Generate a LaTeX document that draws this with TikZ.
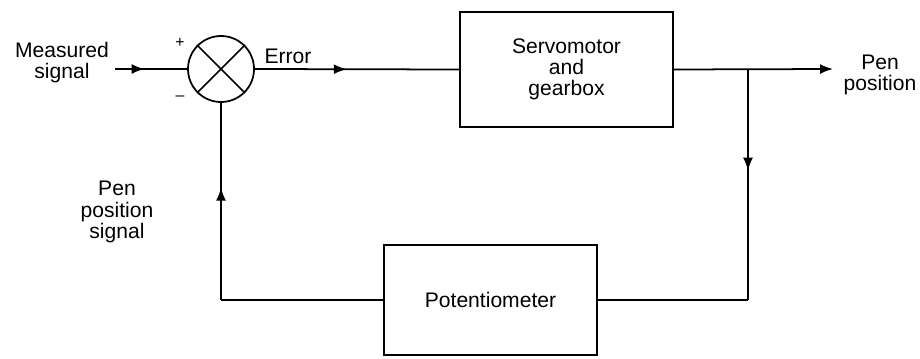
\documentclass[tikz,border=0pt]{standalone}
\usepackage{fontspec}
\setmainfont{Liberation Sans}
\usepackage{tikz}
\usetikzlibrary{arrows.meta,decorations.markings}
\tikzstyle{bloc}=[rectangle, draw=black, minimum width=4.26cm, align=center]
\tikzstyle{texte}=[align=center, font=\fontsize{12}{12}\selectfont]
\tikzstyle{signe}=[font=\fontsize{9}{9}\selectfont]
\tikzstyle{fleche}=[postaction={decorate}, decoration={markings, mark=at position #1 with {\arrow{Latex[length=2.6mm,width=2mm]}}}]

\begin{document}
\begin{tikzpicture}[line width=1pt]
			\useasboundingbox (0,0) rectangle (18.4,-7.16);
			\node[circle, draw=black, minimum size=1.32cm, inner sep=0pt] (s1) at (4.42,-1.38) {};
			\node[bloc, minimum height=2.3cm, texte] (b1) at (11.33,-1.39) {Servomotor\\and\\gearbox};
			\node[bloc, minimum height=2.2cm, texte] (b2) at (9.81,-6.0) {Potentiometer};
			\coordinate (in) at (2.3,-1.38);
			\coordinate (out) at (16.66,-1.38);
			\coordinate (j1) at (14.96,-1.38);
			\coordinate (c1) at (s1 |- b2);
			\coordinate (c2) at (j1 |- b2);
			\node[texte] (t1) at (1.24,-1.26) {Measured\\signal};
			\node[texte] (t2) at (5.76,-1.12) {Error};
			\node[texte] (t3) at (17.6,-1.5) {Pen\\position};
			\node[texte] (t4) at (2.34,-4.24) {Pen\\position\\signal};
			\node[signe] (plus) at (3.6,-0.86) {+};
			\node[signe] (moins) at (3.6,-1.96) {\textendash};
			\path[draw=black]
				(s1.north east)--(s1.south west)(s1.north west)--(s1.south east);
			\draw[fleche=0.41] (in)--(s1.west);
			\draw[fleche=0.45] (s1.east)--(b1.west);
			\draw[-{Latex[length=2.6mm,width=2mm]}] (b1.east)--(out);
			\draw[fleche=0.44] (j1)--(c2);
			\draw (c2)--(b2.east);
			\draw (b2.west)--(c1);
			\draw[fleche=0.57] (c1)--(s1.south);
		\end{tikzpicture}
\end{document}
